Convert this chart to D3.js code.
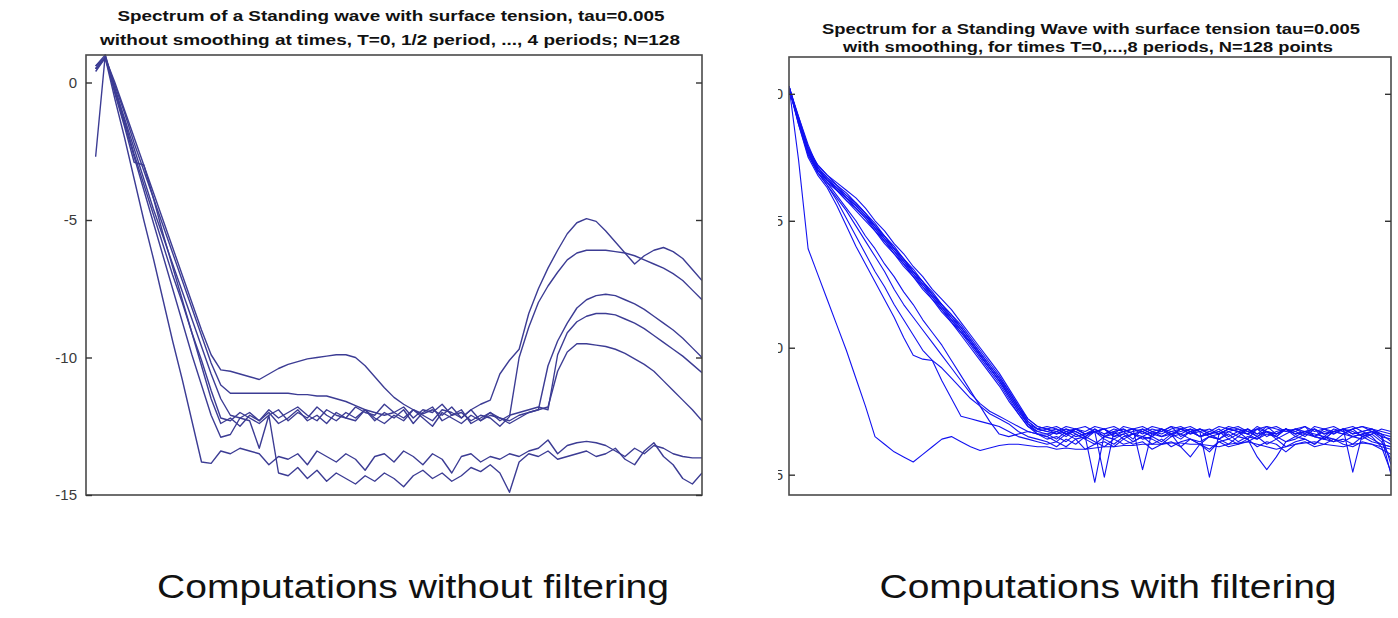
<!DOCTYPE html>
<html>
<head>
<meta charset="utf-8">
<script src="https://cdn.jsdelivr.net/npm/d3@7"></script>
<style>
  body { margin: 0; background: #fff; }
  svg { display: block; }
  text { font-family: "Liberation Sans", Arial, sans-serif; }
</style>
</head>
<body>
<svg id="visu" width="1398" height="618"></svg>
<script>
// ---- data: left panel (no smoothing), modes k = 1..64 ----
var yTicks = [0, -5, -10, -15];

var leftA = [0.5, 0.9, 0.0, -1.0, -2.0, -3.0, -4.0, -5.0, -6.0, -7.0,
  -8.0, -9.0, -9.9, -10.45, -10.5, -10.6, -10.7, -10.8, -10.6, -10.4,
  -10.25, -10.15, -10.05, -10.0, -9.95, -9.9, -9.9, -10.0, -10.3, -10.7,
  -11.1, -11.45, -11.7, -11.9, -12.05, -11.9, -12.1, -11.8, -12.2, -11.9,
  -11.7, -11.55, -10.6, -10.1, -9.7, -8.4, -7.5, -6.75, -6.1, -5.5,
  -5.1, -4.95, -5.05, -5.4, -5.8, -6.2, -6.6, -6.3, -6.1, -6.0,
  -6.15, -6.4, -6.8, -7.2];
var leftB = [0.4, 0.9, -0.1, -1.1, -2.2, -3.2, -4.2, -5.2, -6.2, -7.2,
  -8.2, -9.2, -10.2, -11.0, -11.3, -11.3, -11.3, -11.3, -11.3, -11.3,
  -11.3, -11.35, -11.35, -11.4, -11.4, -11.5, -11.6, -11.75, -11.9, -12.0,
  -12.1, -12.0, -11.8, -12.2, -11.9, -12.0, -11.7, -12.1, -12.0, -12.3,
  -12.1, -12.2, -12.5, -12.15, -10.0, -8.9, -8.0, -7.4, -6.9, -6.45,
  -6.2, -6.1, -6.1, -6.1, -6.15, -6.2, -6.3, -6.45, -6.6, -6.75,
  -6.95, -7.2, -7.55, -7.9];
var leftC = [0.6, 1.0, -0.2, -1.3, -2.4, -3.5, -4.6, -5.6, -6.6, -7.6,
  -8.6, -9.6, -10.6, -11.5, -12.1, -12.2, -12.0, -12.3, -11.9, -12.2,
  -12.0, -11.8, -12.1, -12.3, -11.9, -12.1, -12.2, -11.8, -12.0, -12.1,
  -11.7, -12.0, -12.2, -11.9, -12.1, -12.3, -11.9, -12.0, -12.2, -11.9,
  -12.3, -12.1, -12.2, -12.3, -12.1, -12.0, -11.9, -10.3, -9.4, -8.75,
  -8.2, -7.9, -7.75, -7.7, -7.75, -7.9, -8.05, -8.25, -8.5, -8.75,
  -9.0, -9.3, -9.65, -10.0];
var leftD = [0.5, 0.9, -0.3, -1.4, -2.6, -3.7, -4.8, -5.9, -7.0, -8.0,
  -9.1, -10.1, -11.2, -12.2, -12.3, -12.0, -12.2, -12.4, -12.1, -11.9,
  -12.3, -12.0, -12.2, -11.8, -12.1, -12.3, -12.0, -12.2, -11.9, -12.3,
  -12.0, -12.2, -11.9, -12.4, -12.0, -11.8, -12.3, -12.1, -11.9, -12.4,
  -12.2, -12.0, -12.3, -12.1, -12.0, -11.9, -11.8, -11.9, -9.9, -9.1,
  -8.7, -8.5, -8.4, -8.4, -8.45, -8.6, -8.75, -8.95, -9.2, -9.45,
  -9.7, -9.95, -10.25, -10.55];
var leftE = [-2.7, 1.0, -0.4, -1.6, -2.9, -3.0, -4.2, -5.5, -6.7, -7.9,
  -9.1, -10.3, -11.5, -12.4, -12.2, -12.5, -12.1, -12.3, -12.0, -12.4,
  -12.2, -11.9, -12.3, -12.1, -12.4, -12.0, -12.2, -12.3, -11.9, -12.2,
  -12.4, -12.1, -12.3, -11.9, -12.2, -12.5, -12.0, -12.2, -12.4, -12.1,
  -12.3, -12.0, -12.2, -12.4, -12.2, -12.0, -11.9, -11.8, -10.5, -9.8,
  -9.5, -9.5, -9.55, -9.6, -9.7, -9.85, -10.05, -10.25, -10.5, -10.85,
  -11.2, -11.55, -11.9, -12.3];
var leftF = [0.6, 0.9, -0.6, -2.0, -3.5, -5.0, -6.4, -7.9, -9.4, -10.8,
  -12.3, -13.8, -13.85, -13.4, -13.5, -13.3, -13.4, -13.5, -13.9, -13.6,
  -13.7, -13.5, -13.9, -13.4, -13.6, -13.8, -13.5, -13.7, -14.1, -13.6,
  -13.5, -13.8, -13.4, -13.6, -13.9, -13.5, -13.7, -14.2, -13.6, -13.5,
  -13.8, -13.6, -13.7, -13.5, -13.6, -13.4, -13.3, -13.0, -13.5, -13.2,
  -13.1, -13.05, -13.1, -13.2, -13.4, -13.6, -13.3, -13.5, -13.2, -13.3,
  -13.5, -13.6, -13.65, -13.65];
var leftG = [0.5, 0.9, -0.3, -1.5, -2.7, -3.9, -5.1, -6.3, -7.5, -8.7,
  -9.9, -11.0, -12.1, -12.9, -12.8, -12.2, -12.3, -13.3, -12.1, -14.2,
  -14.3, -14.0, -14.4, -14.1, -14.5, -14.2, -14.4, -14.6, -14.3, -14.5,
  -14.2, -14.4, -14.7, -14.3, -14.1, -14.4, -14.2, -14.5, -14.3, -14.0,
  -14.15, -13.9, -14.2, -14.9, -13.8, -13.5, -13.6, -13.4, -13.7, -13.6,
  -13.5, -13.4, -13.6, -13.5, -13.3, -13.7, -13.9, -13.4, -13.1, -13.6,
  -13.9, -14.4, -14.6, -14.2];

// ---- data: right panel (with smoothing), modes k = 1..64 ----
var rightM1 = [0.3, -1.0, -2.1, -2.8, -3.2, -3.5, -3.8, -4.1, -4.5, -5.0,
  -5.4, -5.9, -6.3, -6.8, -7.2, -7.7, -8.1, -8.5, -9.0, -9.5,
  -10.0, -10.5, -11.0, -11.6, -12.2, -12.8, -13.1,
  -13.2, -13.1, -13.3, -13.2, -13.1, -13.3, -13.2, -13.4, -13.1, -13.2,
  -13.3, -13.1, -13.2, -13.5, -13.2, -13.1, -13.3, -13.2, -13.4, -13.2,
  -13.1, -13.3, -13.2, -13.1, -13.4, -13.2, -13.3, -13.1, -13.5, -13.2,
  -13.1, -13.3, -13.2, -13.1, -13.2, -13.3, -13.4];
var rightM2 = [0.25, -1.1, -2.3, -3.0, -3.4, -3.7, -4.0, -4.3, -4.7, -5.2,
  -5.6, -6.1, -6.5, -7.0, -7.4, -7.9, -8.3, -8.8, -9.2, -9.7,
  -10.2, -10.7, -11.2, -11.8, -12.4, -12.9, -13.2,
  -13.3, -13.2, -13.4, -13.3, -13.5, -15.3, -13.4, -13.2, -13.3, -13.6,
  -13.2, -13.4, -13.3, -13.1, -13.5, -13.3, -13.2, -13.4, -13.6, -13.3,
  -13.2, -13.4, -13.1, -13.3, -13.5, -13.2, -13.4, -13.3, -13.2, -13.6,
  -13.3, -13.2, -13.4, -13.3, -13.5, -13.9, -14.9];
var rightM3 = [0.2, -0.9, -2.0, -2.9, -3.3, -3.7, -4.1, -4.4, -4.8, -5.3,
  -5.7, -6.2, -6.6, -7.1, -7.5, -8.0, -8.4, -8.9, -9.3, -9.8,
  -10.3, -10.8, -11.3, -11.9, -12.5, -13.0, -13.3,
  -13.2, -13.4, -13.3, -13.2, -13.4, -13.3, -15.1, -13.3, -13.2, -13.4,
  -13.5, -13.3, -13.2, -13.4, -13.3, -13.2, -13.5, -13.3, -13.4, -13.2,
  -13.3, -13.6, -13.2, -13.3, -13.4, -13.2, -13.3, -13.5, -13.2, -13.4,
  -13.3, -13.2, -13.4, -13.3, -13.2, -13.4, -13.5];
var rightM4 = [0.3, -1.2, -2.4, -3.1, -3.5, -3.8, -4.2, -4.5, -4.9, -5.4,
  -5.8, -6.3, -6.7, -7.2, -7.6, -8.1, -8.5, -9.0, -9.4, -9.9,
  -10.4, -10.9, -11.4, -12.0, -12.6, -13.1, -13.3,
  -13.4, -13.3, -13.5, -13.2, -13.4, -13.3, -13.5, -13.4, -13.3, -13.2,
  -14.8, -13.3, -13.5, -13.4, -13.2, -13.3, -13.5, -13.4, -13.3, -13.6,
  -13.4, -13.2, -13.5, -13.3, -13.4, -13.2, -13.5, -13.3, -13.4, -13.5,
  -13.2, -13.3, -13.5, -13.4, -13.3, -13.6, -13.8];
var rightM5 = [0.2, -1.0, -2.2, -3.0, -3.4, -3.8, -4.1, -4.5, -4.9, -5.3,
  -5.8, -6.2, -6.7, -7.1, -7.6, -8.0, -8.5, -8.9, -9.4, -9.8,
  -10.3, -10.8, -11.3, -11.8, -12.4, -13.0, -13.4,
  -13.5, -13.3, -13.2, -13.4, -13.6, -13.3, -13.2, -13.5, -13.4, -13.3,
  -13.2, -13.4, -13.5, -13.3, -13.2, -13.4, -13.3, -15.1, -13.4, -13.3,
  -13.5, -13.2, -13.4, -13.3, -13.6, -13.4, -13.2, -13.3, -13.5, -13.3,
  -13.4, -13.2, -13.3, -13.5, -13.4, -13.2, -13.3];
var rightM6 = [0.3, -0.9, -2.1, -2.9, -3.3, -3.6, -4.0, -4.4, -4.8, -5.2,
  -5.6, -6.1, -6.5, -7.0, -7.4, -7.9, -8.3, -8.7, -9.2, -9.7,
  -10.2, -10.7, -11.2, -11.7, -12.3, -12.9, -13.2,
  -13.3, -13.4, -13.2, -13.3, -13.5, -13.2, -13.4, -13.3, -13.2, -13.4,
  -13.3, -13.5, -13.2, -13.3, -13.4, -13.2, -13.3, -13.5, -13.4, -13.2,
  -13.3, -13.4, -13.2, -13.5, -13.3, -13.2, -13.4, -13.3, -13.2, -13.4,
  -13.3, -13.2, -14.9, -13.4, -13.3, -13.5, -13.6];
var rightM7 = [0.25, -1.1, -2.2, -2.8, -3.2, -3.6, -3.9, -4.3, -4.7, -5.1,
  -5.6, -6.0, -6.5, -6.9, -7.4, -7.8, -8.3, -8.7, -9.1, -9.6,
  -10.1, -10.6, -11.1, -11.7, -12.3, -12.8, -13.1,
  -13.2, -13.3, -13.1, -13.2, -13.4, -13.3, -13.2, -13.1, -13.3, -13.2,
  -13.4, -13.2, -13.3, -13.1, -13.2, -13.4, -13.2, -13.3, -13.1, -13.2,
  -13.3, -13.2, -13.4, -13.1, -13.2, -13.3, -13.2, -13.1, -13.3, -13.2,
  -13.4, -13.2, -13.1, -13.3, -13.2, -13.5, -15.0];
var rightM8 = [0.3, -1.0, -2.3, -3.0, -3.4, -3.7, -4.1, -4.4, -4.8, -5.2,
  -5.7, -6.1, -6.6, -7.0, -7.5, -7.9, -8.4, -8.8, -9.3, -9.8,
  -10.3, -10.8, -11.3, -11.9, -12.5, -13.0, -13.2,
  -13.1, -13.2, -13.4, -13.2, -13.3, -13.1, -13.2, -13.5, -13.3, -13.2,
  -13.1, -13.3, -13.4, -13.2, -13.1, -13.3, -13.2, -13.4, -13.3, -13.1,
  -13.2, -13.3, -13.5, -13.2, -13.1, -13.3, -13.2, -13.4, -13.1, -13.2,
  -13.3, -13.4, -13.2, -13.1, -13.3, -13.4, -14.6];
var rightM9 = [0.2, -1.1, -2.2, -2.9, -3.4, -3.8, -4.2, -4.6, -5.0, -5.4,
  -5.9, -6.3, -6.8, -7.2, -7.7, -8.1, -8.6, -9.0, -9.5, -10.0,
  -10.5, -11.0, -11.5, -12.1, -12.6, -13.1, -13.4,
  -13.4, -13.6, -13.3, -13.5, -13.4, -13.2, -13.5, -13.3, -13.6, -13.4,
  -13.3, -13.5, -13.2, -13.4, -13.6, -13.3, -13.5, -13.4, -13.2, -13.5,
  -13.3, -13.4, -13.6, -13.3, -13.5, -13.2, -13.4, -13.3, -13.5, -13.6,
  -13.3, -13.4, -13.2, -13.5, -13.3, -13.4, -13.7];
var rightD1 = [0.2, -1.2, -2.5, -3.2, -3.7, -4.4, -5.2, -6.0, -6.7, -7.4,
  -8.1, -8.8, -9.6, -10.3, -10.45, -10.5, -11.3, -12.0, -12.7, -12.8,
  -12.9, -13.0, -13.1, -13.3, -13.5, -13.6, -13.7,
  -13.8, -13.7, -13.9, -13.6, -14.0, -13.8, -13.7, -13.9, -13.6, -13.8,
  -13.7, -14.0, -13.8, -13.7, -13.9, -13.6, -13.8, -14.0, -13.7, -13.9,
  -13.8, -13.6, -13.9, -13.7, -13.8, -14.1, -13.8, -13.7, -13.9, -13.8,
  -13.6, -13.8, -13.9, -13.7, -13.8, -14.0, -14.2];
var rightD2 = [0.3, -1.1, -2.4, -3.1, -3.6, -4.1, -4.6, -5.2, -5.8, -6.4,
  -7.0, -7.7, -8.3, -8.8, -9.3, -9.8, -10.3, -10.8, -11.3, -11.8,
  -12.2, -12.5, -12.7, -12.9, -13.1, -13.3, -13.4,
  -13.6, -13.5, -13.7, -13.4, -13.6, -13.8, -13.5, -13.6, -13.4, -13.7,
  -13.5, -13.6, -13.8, -13.5, -13.4, -13.6, -13.7, -13.5, -13.6, -13.8,
  -13.5, -13.6, -14.3, -14.8, -14.3, -13.7, -13.5, -13.6, -13.8, -13.5,
  -13.6, -13.7, -13.5, -13.4, -13.6, -13.8, -13.9];
var rightD3 = [0.2, -1.0, -2.3, -3.0, -3.5, -4.0, -4.5, -5.0, -5.6, -6.1,
  -6.7, -7.2, -7.8, -8.3, -8.9, -9.4, -9.9, -10.5, -11.1, -11.7,
  -12.3, -12.9, -13.4, -13.5, -13.4, -13.3, -13.4,
  -13.5, -13.7, -13.4, -13.6, -13.5, -13.3, -13.6, -13.8, -13.5, -13.4,
  -13.6, -13.5, -13.7, -13.4, -13.9, -14.3, -13.8, -13.5, -13.6, -13.4,
  -13.7, -13.5, -13.6, -13.4, -13.5, -13.7, -13.6, -13.4, -13.5, -13.6,
  -13.7, -13.4, -13.5, -13.6, -13.4, -13.7, -14.4];
var rightD4 = [0.25, -1.1, -2.3, -3.1, -3.6, -4.2, -4.9, -5.6, -6.3, -7.0,
  -7.6, -8.3, -8.9, -9.5, -10.1, -10.5, -10.8, -11.2, -11.6, -12.0,
  -12.3, -12.6, -12.8, -13.0, -13.3, -13.5, -13.6,
  -13.7, -13.9, -13.6, -13.8, -13.5, -13.7, -13.9, -13.6, -13.8, -13.7,
  -13.5, -13.8, -13.6, -13.9, -13.7, -13.6, -13.8, -14.1, -13.7, -13.6,
  -13.8, -13.7, -13.5, -13.8, -13.6, -13.9, -13.7, -13.6, -13.8, -13.5,
  -13.7, -13.6, -13.8, -13.5, -13.7, -13.8, -13.9];
var rightS = [0.3, -2.6, -6.1, -7.1, -8.1, -9.1, -10.1, -11.2, -12.3, -13.5,
  -13.8, -14.1, -14.3, -14.5, -14.2, -13.9, -13.6, -13.5, -13.7, -13.9,
  -14.05, -13.95, -13.85, -13.8, -13.8, -13.85, -13.9,
  -13.9, -14.0, -13.95, -14.0, -14.0, -13.95, -13.9, -13.9, -13.85, -13.85,
  -13.8, -13.8, -13.8, -13.75, -13.75, -13.8, -13.8, -13.85, -13.9, -13.8,
  -13.75, -13.7, -13.8, -13.9, -14.0, -13.9, -13.8, -13.75, -13.7, -13.8,
  -13.85, -13.9, -13.8, -13.75, -13.8, -13.9, -14.0];

var leftSeries = [leftA, leftB, leftC, leftD, leftE, leftF, leftG];
var rightSeries = [rightM1, rightM2, rightM3, rightM4, rightM5, rightM6, rightM7,
  rightM8, rightM9, rightD1, rightD2, rightD3, rightD4, rightS];

var leftTitle = ["Spectrum of a Standing wave with surface tension, tau=0.005",
  "without smoothing at times, T=0, 1/2 period, ..., 4 periods; N=128"];
var rightTitle = ["Spectrum for a Standing Wave with surface tension tau=0.005",
  "with smoothing, for times T=0,...,8 periods, N=128 points"];
var captions = ["Computations without filtering", "Computations with filtering"];

var vis = d3.select("#visu");

function drawPanel(id, box, xDom, yDom, series, color, lw, labelClip) {
  var x = d3.scaleLinear().domain(xDom).range([box.left, box.right]),
      y = d3.scaleLinear().domain(yDom).range([box.bottom, box.top]);

  vis.append("clipPath").attr("id", "clip" + id)
    .append("rect")
    .attr("x", box.left).attr("y", box.top - 2)
    .attr("width", box.right - box.left).attr("height", box.bottom - box.top + 2);

  var lineGen = d3.line()
    .x(function(d, i) { return x(i + 1); })
    .y(function(d) { return y(d); });

  var g = vis.append("g").attr("clip-path", "url(#clip" + id + ")");
  series.forEach(function(s) {
    g.append("path")
      .attr("d", lineGen(s))
      .attr("fill", "none")
      .attr("stroke", color)
      .attr("stroke-width", lw)
      .attr("stroke-linejoin", "round");
  });

  // frame
  vis.append("rect")
    .attr("x", box.left).attr("y", box.top)
    .attr("width", box.right - box.left).attr("height", box.bottom - box.top)
    .attr("fill", "none").attr("stroke", "#4a4a4a").attr("stroke-width", 1.6);

  var yAxis = d3.axisLeft(y).tickValues(yTicks).tickSize(-6).tickPadding(box.pad)
    .tickFormat(d3.format("d"));
  var ax = vis.append("g")
    .attr("transform", "translate(" + box.left + ",0)")
    .call(yAxis);
  ax.select(".domain").remove();
  ax.selectAll("line").attr("stroke", "#333").attr("stroke-width", 1.4);
  ax.selectAll("text")
    .attr("fill", "#3a3a3a")
    .style("font-size", "15px")
    .text(function(d) { return d === 0 ? "0" : "-" + Math.abs(d); });
  // the right picture is cut at its left edge: only part of the labels shows
  if (labelClip) {
    vis.append("clipPath").attr("id", "lab" + id)
      .append("rect").attr("x", labelClip - box.left).attr("y", 0)
      .attr("width", 60).attr("height", 618);
    ax.attr("clip-path", "url(#lab" + id + ")");
  }

  var ax2 = vis.append("g")
    .attr("transform", "translate(" + box.right + ",0)")
    .call(d3.axisRight(y).tickValues(yTicks).tickSize(-6).tickFormat(""));
  ax2.select(".domain").remove();
  ax2.selectAll("line").attr("stroke", "#333").attr("stroke-width", 1.4);
}

function fitText(txt, cx, yb, width, size, weight) {
  vis.append("text")
    .attr("x", cx).attr("y", yb)
    .attr("text-anchor", "middle")
    .attr("textLength", width)
    .attr("lengthAdjust", "spacingAndGlyphs")
    .style("font-size", size + "px")
    .style("font-weight", weight)
    .attr("fill", "#111")
    .text(txt);
}

drawPanel("L", {left: 86, right: 702, top: 55, bottom: 495, pad: 9},
  [0, 64], [-15, 1], leftSeries, "#3c3c94", 1.4, null);
drawPanel("R", {left: 789, right: 1391, top: 57, bottom: 495, pad: 6},
  [1, 64], [-15.8, 1.45], rightSeries, "#1212f0", 1.1, 778);

fitText(leftTitle[0], 391, 21, 547, 15.5, "bold");
fitText(leftTitle[1], 390, 45, 580, 15.5, "bold");
fitText(rightTitle[0], 1091, 34, 538, 14, "bold");
fitText(rightTitle[1], 1088, 52, 490, 14, "bold");

fitText(captions[0], 413, 598, 512, 34, "normal");
fitText(captions[1], 1108, 598, 457, 34, "normal");
</script>
</body>
</html>
